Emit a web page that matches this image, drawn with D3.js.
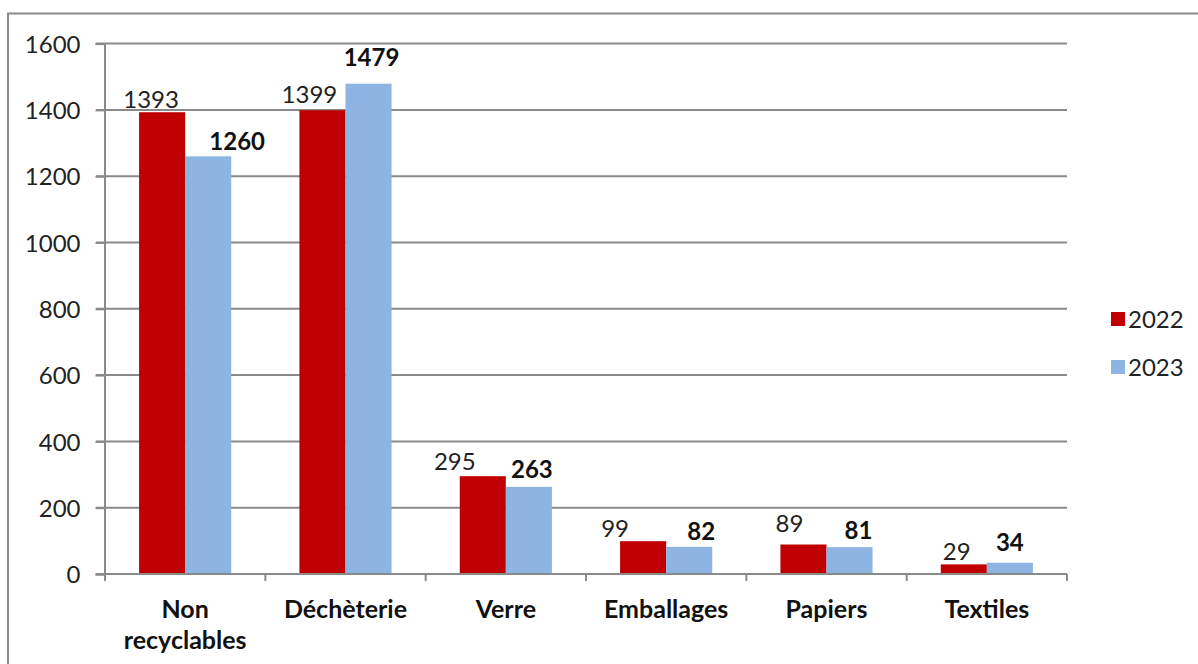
<!DOCTYPE html>
<html>
<head>
<meta charset="utf-8">
<script src="https://cdn.jsdelivr.net/npm/d3@7"></script>
<style>
  html, body { margin: 0; padding: 0; background: #fff; }
  svg { display: block; font-family: Lato, "Open Sans", sans-serif; }
</style>
</head>
<body>
<div id="chart"></div>
<script>
// donnees
const categories = [["Non", "recyclables"], ["Déchèterie"], ["Verre"], ["Emballages"], ["Papiers"], ["Textiles"]];
const years = ["2022", "2023"];
const values2022 = [1393, 1399, 295, 99, 89, 29];
const values2023 = [1260, 1479, 263, 82, 81, 34];
const yTicks = [0, 200, 400, 600, 800, 1000, 1200, 1400, 1600];

// petits decalages des etiquettes (placees a la main dans l'original)
const labelNudge2022 = [[-11, 0], [-13, -3], [-28, -2], [-28, 0], [-14, -8], [-7, 0]];
const labelNudge2023 = [[29, -2], [3, -14], [3, -5], [12, -3], [9, -4], [0, -8]];

const colors = { "2022": "#C00000", "2023": "#8DB4E2" };
const W = 1198, H = 664;
const gridColor = "#8a8a8a";
const fontSize = 24;

const svg = d3.select("#chart").append("svg")
  .attr("width", W).attr("height", H);

// cadre exterieur
svg.append("rect")
  .attr("x", 8).attr("y", 13.5)
  .attr("width", W + 20).attr("height", H + 20)
  .attr("fill", "none").attr("stroke", gridColor).attr("stroke-width", 2);

const x = d3.scaleBand()
  .domain(d3.range(categories.length))
  .range([105, 1067])
  .paddingInner(0).paddingOuter(0);

const xi = d3.scaleBand()
  .domain(years)
  .range([0, x.bandwidth()])
  .paddingInner(0).paddingOuter(0.74);

const y = d3.scaleLinear().domain([0, 1600]).range([574, 43.6]);

// grille horizontale
svg.append("g").selectAll("line")
  .data(yTicks.filter(d => d > 0))
  .join("line")
  .attr("x1", 96).attr("x2", 1067)
  .attr("y1", d => y(d)).attr("y2", d => y(d))
  .attr("stroke", gridColor).attr("stroke-width", 2);

// axe Y
const yAxis = svg.append("g")
  .attr("transform", "translate(104.5,0)")
  .call(d3.axisLeft(y).tickValues(yTicks).tickFormat(d3.format("d")).tickSize(9).tickPadding(15));
yAxis.select(".domain").attr("stroke", gridColor).attr("stroke-width", 2);
yAxis.selectAll(".tick line").attr("stroke", gridColor).attr("stroke-width", 2);
yAxis.selectAll(".tick text")
  .attr("font-family", "Lato, sans-serif")
  .attr("font-size", fontSize).attr("fill", "#222")
  .attr("dy", "0.36em");

// barres
const groups = svg.append("g").selectAll("g")
  .data(categories.map((c, i) => i))
  .join("g")
  .attr("transform", i => `translate(${x(i)},0)`);

const series = [
  { year: "2022", values: values2022, nudge: labelNudge2022, bold: false },
  { year: "2023", values: values2023, nudge: labelNudge2023, bold: true },
];

series.forEach(s => {
  groups.append("rect")
    .attr("x", xi(s.year))
    .attr("width", xi.bandwidth())
    .attr("y", i => y(s.values[i]))
    .attr("height", i => y(0) - y(s.values[i]))
    .attr("fill", colors[s.year]);

  groups.append("text")
    .attr("x", i => xi(s.year) + xi.bandwidth() / 2 + s.nudge[i][0])
    .attr("y", i => y(s.values[i]) - 4 + s.nudge[i][1])
    .attr("text-anchor", "middle")
    .attr("font-size", fontSize)
    .attr("font-weight", s.bold ? "bold" : "normal")
    .attr("fill", s.bold ? "#111" : "#222")
    .text(i => s.values[i]);
});

// axe X
const xAxis = svg.append("g");
xAxis.append("line")
  .attr("x1", 96).attr("x2", 1067)
  .attr("y1", y(0)).attr("y2", y(0))
  .attr("stroke", gridColor).attr("stroke-width", 2);
xAxis.selectAll("line.tick")
  .data(d3.range(categories.length + 1))
  .join("line")
  .attr("class", "tick")
  .attr("x1", i => i < categories.length ? x(i) : x.range()[1])
  .attr("x2", i => i < categories.length ? x(i) : x.range()[1])
  .attr("y1", y(0)).attr("y2", y(0) + 7)
  .attr("stroke", gridColor).attr("stroke-width", 2);

const catLabels = xAxis.selectAll("text")
  .data(categories)
  .join("text")
  .attr("x", (d, i) => x(i) + x.bandwidth() / 2)
  .attr("y", 618)
  .attr("text-anchor", "middle")
  .attr("font-size", 25)
  .attr("font-weight", "bold")
  .attr("fill", "#111");
catLabels.selectAll("tspan")
  .data(d => d)
  .join("tspan")
  .attr("x", function () { return this.parentNode.getAttribute("x"); })
  .attr("dy", (d, j) => j === 0 ? 0 : 31)
  .text(d => d);

// legende
const legend = svg.append("g").attr("transform", "translate(1111,312)");
years.forEach((yr, j) => {
  legend.append("rect")
    .attr("x", 0).attr("y", j * 48)
    .attr("width", 14).attr("height", 14)
    .attr("fill", colors[yr]);
  legend.append("text")
    .attr("x", 17).attr("y", j * 48 + 15.5)
    .attr("font-size", fontSize).attr("fill", "#222")
    .text(yr);
});
</script>
</body>
</html>
